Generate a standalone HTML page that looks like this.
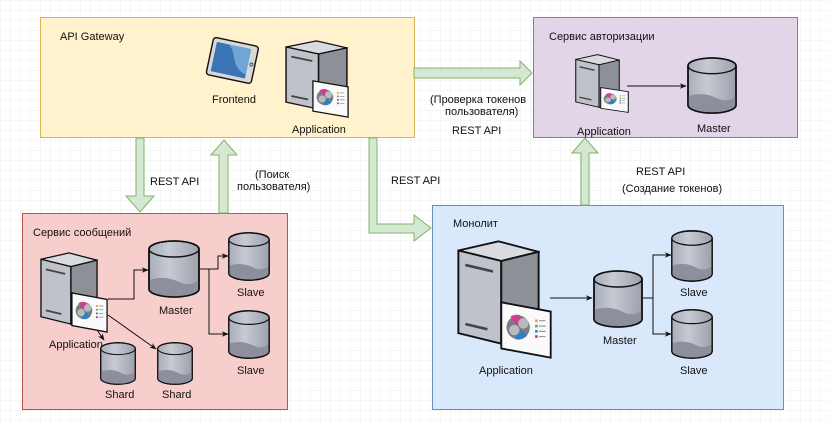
<!DOCTYPE html>
<html><head><meta charset="utf-8"><style>
body{margin:0;background:#fff}
svg{display:block;font-family:"Liberation Sans","Noto Sans CJK SC",sans-serif;font-size:11px}
</style></head><body>
<svg width="829" height="426" viewBox="0 0 829 426" xmlns="http://www.w3.org/2000/svg">
<defs>
<pattern id="grid" width="10" height="10" patternUnits="userSpaceOnUse">
<path d="M10 0H0V10" fill="none" stroke="#ececec" stroke-width="1"/>
</pattern>
<linearGradient id="cg" x1="0" x2="1"><stop offset="0" stop-color="#a9adb8"/><stop offset="0.4" stop-color="#c6cad3"/><stop offset="1" stop-color="#9da1ac"/></linearGradient>
<symbol id="cyl" viewBox="0 0 50 58" preserveAspectRatio="none">
<path d="M1 9 A24 8 0 0 1 49 9 V49 A24 8 0 0 1 1 49 Z" fill="url(#cg)" stroke="#111" stroke-width="1.6"/>
<path d="M1 40 C12 36 22 38 30 42 C38 46 44 44 49 40 V49 A24 8 0 0 1 1 49 Z" fill="#8d909c"/>
<path d="M1 9 A24 8 0 0 0 49 9" fill="none" stroke="#111" stroke-width="1.4"/>
<path d="M1 9 A24 8 0 0 1 49 9 V49 A24 8 0 0 1 1 49 Z" fill="none" stroke="#111" stroke-width="1.6"/>
</symbol>
<symbol id="srv" viewBox="0 0 60 80" preserveAspectRatio="none">
<polygon points="1,8 30,1 59,9 32,16" fill="#d9dbe0" stroke="#111" stroke-width="1.4"/>
<polygon points="1,8 32,16 32,79 1,71" fill="#bfc2ca" stroke="#111" stroke-width="1.4"/>
<polygon points="32,16 59,9 59,71 32,79" fill="#8e9098" stroke="#111" stroke-width="1.4"/>
<line x1="6" y1="19" x2="26" y2="24" stroke="#444" stroke-width="2"/>
<line x1="6" y1="64" x2="22" y2="68" stroke="#444" stroke-width="2"/>
</symbol>
<symbol id="pan" viewBox="0 0 40 44" preserveAspectRatio="none">
<polygon points="1,1 39,8 39,43 1,36" fill="#fafafa" stroke="#111" stroke-width="1.4"/>
<circle cx="14" cy="20" r="9" fill="#7a7d86"/>
<path d="M14 20 L8 12 A9 9 0 0 1 16 11 Z" fill="#d23c8c"/>
<path d="M14 20 L21 26 A9 9 0 0 1 12 29 Z" fill="#2f7fc1"/>
<circle cx="11" cy="22" r="4" fill="#b8bac0"/><circle cx="18" cy="17" r="4" fill="#b8bac0"/>
<rect x="27" y="14" width="2" height="2" fill="#f0a020"/><rect x="27" y="18" width="2" height="2" fill="#50b050"/>
<rect x="27" y="22" width="2" height="2" fill="#3080d0"/><rect x="27" y="26" width="2" height="2" fill="#d03080"/>
<path d="M30 15h5M30 19h5M30 23h5M30 27h5" stroke="#888" stroke-width="0.8"/>
</symbol>
<marker id="ah" viewBox="0 0 10 10" refX="9" refY="5" markerWidth="7" markerHeight="7" orient="auto"><path d="M0 1 L10 5 L0 9 L3 5Z" fill="#111"/></marker>
</defs>
<rect width="829" height="426" fill="url(#grid)"/>

<!-- boxes -->
<rect x="40.5" y="17.5" width="374" height="120" fill="#fff2cc" stroke="#d6b656"/>
<rect x="533.5" y="17.5" width="264" height="120" fill="#e1d5e7" stroke="#9673a6"/>
<rect x="22.5" y="213.5" width="265" height="196" fill="#f8cecc" stroke="#b85450"/>
<rect x="432.5" y="205.5" width="351" height="204" fill="#dae8fc" stroke="#6c8ebf"/>

<!-- block arrows -->
<g fill="#d5e8d4" stroke="#82b366" stroke-width="1">
<polygon points="414,68 520,68 520,61 532,73 520,85 520,78 414,78"/>
<polygon points="136,138 144,138 144,196 154,196 140,212 126,196 136,196"/>
<polygon points="219,213 228,213 228,155 237,155 224,140 211,155 219,155"/>
<polygon points="369,138 377,138 377,224 414,224 414,215 431,228 414,241 414,233 369,233"/>
<polygon points="581,205 589,205 589,153 598,153 585,138 572,153 581,153"/>
</g>

<!-- texts -->
<g fill="#111">
<text x="60" y="40">API Gateway</text>
<text x="549" y="40">Сервис авторизации</text>
<text x="33" y="236">Сервис сообщений</text>
<text x="453" y="227">Монолит</text>
<text x="150" y="185">REST API</text>
<text x="255" y="178">(Поиск</text>
<text x="237" y="190">пользователя)</text>
<text x="391" y="184">REST API</text>
<text x="430" y="103">(Проверка токенов</text>
<text x="445" y="115">пользователя)</text>
<text x="452" y="134">REST API</text>
<text x="636" y="175">REST API</text>
<text x="622" y="192">(Создание токенов)</text>
<text x="212" y="103">Frontend</text>
<text x="292" y="133">Application</text>
<text x="577" y="135">Application</text>
<text x="697" y="132">Master</text>
<text x="49" y="348">Application</text>
<text x="159" y="314">Master</text>
<text x="237" y="296">Slave</text>
<text x="237" y="374">Slave</text>
<text x="105" y="398">Shard</text>
<text x="162" y="398">Shard</text>
<text x="479" y="374">Application</text>
<text x="603" y="344">Master</text>
<text x="680" y="296">Slave</text>
<text x="680" y="374">Slave</text>
</g>

<!-- tablet -->
<g transform="translate(205,37) rotate(12 25 25)">
<rect x="4" y="4" width="46" height="38" rx="3" fill="#d8d8d8" stroke="#111" stroke-width="1.4"/>
<rect x="8" y="8" width="35" height="30" fill="#3a74b4"/>
<path d="M20 8 C30 14 26 30 43 34 V8Z" fill="#6fa6d6"/>
<circle cx="46.5" cy="23" r="1.5" fill="none" stroke="#555"/>
</g>

<!-- servers -->
<use href="#srv" x="285" y="40" width="63" height="70"/><use href="#pan" x="312" y="80" width="37" height="38"/>
<use href="#srv" x="575" y="54" width="45" height="54"/><use href="#pan" x="600" y="87" width="29" height="26"/>
<use href="#srv" x="40" y="252" width="58" height="73"/><use href="#pan" x="71" y="292" width="37" height="41"/>
<use href="#srv" x="457" y="240" width="83" height="105"/><use href="#pan" x="500" y="301" width="52" height="58"/>

<!-- cylinders -->
<use href="#cyl" x="687" y="57" width="50" height="57"/>
<use href="#cyl" x="148" y="240" width="52" height="58"/>
<use href="#cyl" x="228" y="232" width="42" height="49"/>
<use href="#cyl" x="228" y="310" width="42" height="49"/>
<use href="#cyl" x="100" y="342" width="36" height="43"/>
<use href="#cyl" x="157" y="342" width="36" height="43"/>
<use href="#cyl" x="593" y="270" width="50" height="58"/>
<use href="#cyl" x="671" y="230" width="42" height="52"/>
<use href="#cyl" x="671" y="309" width="42" height="50"/>

<!-- connectors -->
<g fill="none" stroke="#111" stroke-width="1" marker-end="url(#ah)">
<path d="M627 86 H686"/>
<path d="M108 299 H134 V270 H148"/>
<path d="M200 269 H218 V256 H228"/>
<path d="M209 269 V334 H228"/>
<path d="M108 315 L156 349"/>
<path d="M97 330 L104 340"/>
<path d="M550 298 H592"/>
<path d="M643 298 H653 V255 H671"/>
<path d="M653 298 V334 H671"/>
</g>
</svg>
</body></html>
